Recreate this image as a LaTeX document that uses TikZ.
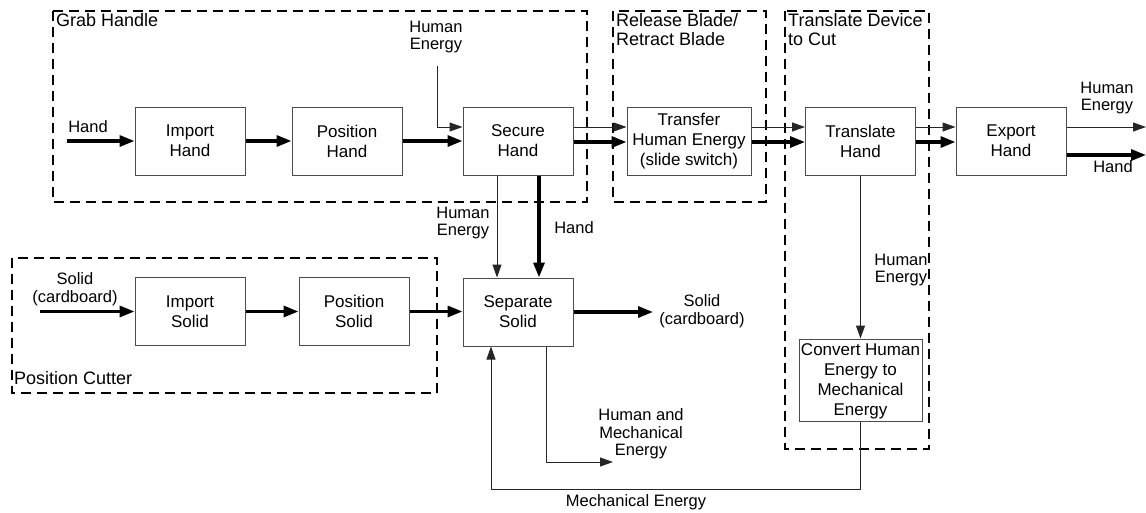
\documentclass[tikz,border=0pt]{standalone}
\usepackage{fontspec}
\setmainfont{Liberation Sans}
\usetikzlibrary{arrows.meta,calc}
\begin{document}
\begin{tikzpicture}[x=1pt,y=-1pt,
  every node/.style={font=\fontsize{16.5}{17.5}\selectfont, inner sep=0pt, text=black},
  fbox/.style={draw=black!70, line width=1pt, fill=white, minimum width=110pt,
    minimum height=68pt, align=center, font=\fontsize{17}{20}\selectfont},
  group/.style={draw=black, line width=1.7pt, dash pattern=on 10pt off 6pt},
  grplbl/.style={anchor=north west, align=left, font=\fontsize{18}{19.5}\selectfont},
  thin/.style={draw=black!85, line width=1pt, -{Triangle[length=13pt,width=9pt]}},
  thick/.style={draw=black, line width=3.2pt, -{Triangle[length=15pt,width=11pt]}},
  lbl/.style={align=center}]
\useasboundingbox (0,0) rectangle (1146,512);

% function groups
\draw[group] (53,11) rectangle (587,202);
\draw[group] (613,11) rectangle (766,202);
\draw[group] (785,11) rectangle (929,449);
\draw[group] (12,258) rectangle (437,393);
\node[grplbl] (gGrab) at (56,13) {Grab Handle};
\node[grplbl] (gRel) at (616,13) {Release Blade/\\Retract Blade};
\node[grplbl] (gTra) at (788,13) {Translate Device\\to Cut};
\node[grplbl, anchor=west] (gPos) at (14,378) {Position Cutter};

% function blocks
\node[fbox] (imph) at (190,141) {Import\\Hand};
\node[fbox] (posh) at (347,141) {Position\\Hand};
\node[fbox] (sech) at (518,141) {Secure\\Hand};
\node[fbox, minimum width=124pt] (trf) at (689,141) {Transfer\\Human Energy\\(slide switch)};
\node[fbox] (trh) at (860.5,141) {Translate\\Hand};
\node[fbox] (exph) at (1011,141) {Export\\Hand};
\node[fbox] (imps) at (190,311.5) {Import\\Solid};
\node[fbox] (poss) at (354,311.5) {Position\\Solid};
\node[fbox] (seps) at (518,312) {Separate\\Solid};
\node[fbox, minimum width=123pt, minimum height=82pt, text depth=-3pt] (conv) at (860.5,380) {Convert Human\\Energy to\\Mechanical\\Energy};

% free ends
\coordinate (handIn) at (67,141);
\coordinate (heIn) at (437,66);
\coordinate (solIn) at (40,311.5);
\coordinate (solOut) at (653,312);
\coordinate (heOut) at (1146,127);
\coordinate (handOut) at (1146,155);
\coordinate (hmOut) at (613,462);
\coordinate (meBend) at (491,489);

% hand flow
\draw[thick] (handIn) -- (imph.west);
\draw[thick] (imph) -- (posh);
\draw[thick] (posh) -- (sech);
\draw[thick] (sech.east |- 0,142) -- (trf.west |- 0,142);
\draw[thick] (trf.east |- 0,142) -- (trh.west |- 0,142);
\draw[thick] (trh.east |- 0,142) -- (exph.west |- 0,142);
\draw[thick] (exph.east |- handOut) -- (handOut);
\draw[thick] (sech.south -| 539,0) -- (seps.north -| 539,0);

% human energy flow
\draw[thin] (heIn) |- (sech.west |- 0,127);
\draw[thin] (sech.east |- 0,127) -- (trf.west |- 0,127);
\draw[thin] (trf.east |- 0,127) -- (trh.west |- 0,127);
\draw[thin] (trh.east |- 0,127) -- (exph.west |- 0,127);
\draw[thin] (exph.east |- heOut) -- (heOut);
\draw[thin] (sech.south -| 497,0) -- (seps.north -| 497,0);
\draw[thin] (trh.south) -- (conv.north);

% solid flow
\draw[thick] (solIn) -- (imps.west);
\draw[thick] (imps) -- (poss);
\draw[thick] (poss.east) -- (seps.west |- poss.east);
\draw[thick] (seps.east |- solOut) -- (solOut);

% energy out of separation and mechanical feedback
\draw[thin] (seps.south -| 546,0) |- (hmOut);
\draw[thin] (conv.south) |- (meBend) -- (seps.south -| meBend);

% flow labels
\node (lHandIn) at (88,127) {Hand};
\node[lbl] (lHeIn) at (436,37) {Human\\Energy};
\node[lbl] (lSolIn) at (75,289) {Solid\\(cardboard)};
\node[lbl] (lHeDn) at (463,223) {Human\\Energy};
\node (lHandDn) at (574,228) {Hand};
\node[lbl] (lSolOut) at (702,311) {Solid\\(cardboard)};
\node[lbl] (lHm) at (641,434) {Human and\\Mechanical\\Energy};
\node (lMe) at (636,502) {Mechanical Energy};
\node[lbl] (lHeConv) at (901,270) {Human\\Energy};
\node[lbl] (lHeOut) at (1107,98) {Human\\Energy};
\node (lHandOut) at (1113,167) {Hand};
\end{tikzpicture}
\end{document}
